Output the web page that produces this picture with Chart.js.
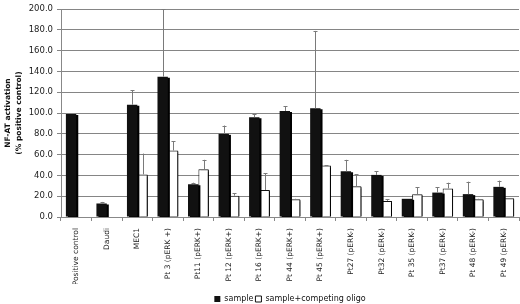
<!DOCTYPE html>
<html>
<head>
<meta charset="utf-8">
<script src="https://cdn.jsdelivr.net/npm/chart.js@4"></script>
<style>
html,body{margin:0;padding:0;background:#fff;}
#wrap{width:520px;height:304px;}
</style>
</head>
<body>
<div id="wrap"><canvas id="c" width="520" height="304"></canvas></div>
<script>
const categories = ["Positive control","Daudi","MEC1","Pt 3 (pERK +)","Pt11 (pERK+)","Pt 12 (pERK+)","Pt 16 (pERK+)","Pt 44 (pERK+)","Pt 45 (pERK+)","Pt27 (pERK-)","Pt32 (pERK-)","Pt 35 (pERK-)","Pt37 (pERK-)","Pt 48 (pERK-)","Pt 49 (pERK-)"];
const sampleValues = [99, 13, 108, 135, 31.5, 80, 96, 102, 104.5, 44, 40.5, 17.5, 23.5, 22, 29];
const oligoValues = [null, null, 41, 64, 46, 20.5, 26, 17, 49.5, 29.5, 15.5, 22, 27.5, 17, 18];
const sampleErrTop = [null, 14.5, 122, 200, 33, 88, 99, 106.5, 179, 55, 44, null, 28.5, 34, 35];
const oligoErrTop = [null, null, 61, 73, 55, 23, 42, 17.5, 50, 41, 17, 28.5, 33, 17.5, null];
const yTicks = [0,20,40,60,80,100,120,140,160,180,200];

const FONT = "'DejaVu Sans', Verdana, sans-serif";

const shadowPlugin = {
  id: 'shadowPlugin',
  afterLayout(chart) {
    if (chart.legend) { chart.legend.top += 9; chart.legend.bottom += 9; }
  },
  beforeDatasetsDraw(chart) {
    const ctx = chart.ctx;
    ctx.save();
    ctx.shadowColor = '#000';
    ctx.shadowOffsetX = 2;
    ctx.shadowOffsetY = 1;
    ctx.shadowBlur = 0;
  },
  afterDatasetsDraw(chart) {
    const ctx = chart.ctx;
    ctx.restore();
    const y = chart.scales.y;
    const area = chart.chartArea;
    const tops = [sampleErrTop, oligoErrTop];
    ctx.save();
    ctx.beginPath();
    ctx.rect(area.left, area.top - 1, area.right - area.left, area.bottom - area.top + 1);
    ctx.clip();
    ctx.strokeStyle = '#7a7a7a';
    ctx.lineWidth = 1;
    tops.forEach((arr, di) => {
      const meta = chart.getDatasetMeta(di);
      meta.data.forEach((bar, i) => {
        const v = chart.data.datasets[di].data[i];
        const t = arr[i];
        if (v == null || t == null) return;
        const x = Math.round(bar.x) + 0.5;
        const y0 = y.getPixelForValue(v);
        const y1 = y.getPixelForValue(t);
        ctx.beginPath();
        ctx.moveTo(x, y0);
        ctx.lineTo(x, y1);
        ctx.moveTo(x - 2, Math.round(y1) + 0.5);
        ctx.lineTo(x + 2, Math.round(y1) + 0.5);
        ctx.stroke();
      });
    });
    ctx.restore();
  }
};

new Chart(document.getElementById('c'), {
  type: 'bar',
  data: {
    labels: categories,
    datasets: [
      { label: 'sample', data: sampleValues, backgroundColor: '#111', borderColor: '#111', borderWidth: 0 },
      { label: 'sample+competing oligo', data: oligoValues, backgroundColor: '#fff', borderColor: '#111', borderWidth: 1 }
    ]
  },
  options: {
    responsive: false,
    animation: false,
    layout: { padding: { top: 4, right: 1, left: 0, bottom: 0 } },
    datasets: { bar: { categoryPercentage: 0.68, barPercentage: 1 } },
    plugins: {
      legend: {
        position: 'bottom',
        fullSize: false,
        labels: {
          font: { family: FONT, size: 8 },
          color: '#111',
          boxWidth: 6,
          boxHeight: 6,
          padding: 2
        }
      },
      tooltip: { enabled: false }
    },
    scales: {
      x: {
        grid: { display: true, drawOnChartArea: false, color: '#888', tickLength: 4, offset: true },
        border: { color: '#888' },
        ticks: {
          font: { family: FONT, size: 7.5 },
          color: '#222',
          maxRotation: 90,
          minRotation: 90,
          autoSkip: false,
          padding: 7
        },
        afterFit(s) { s.height = 67; }
      },
      y: {
        min: 0,
        max: 200,
        afterBuildTicks(s) { s.ticks = yTicks.map(v => ({ value: v })); },
        grid: { color: '#858585', drawTicks: true, tickLength: 4 },
        border: { color: '#888' },
        ticks: {
          font: { family: FONT, size: 8.5 },
          color: '#222',
          padding: 4,
          callback: v => Number(v).toFixed(1)
        },
        title: {
          display: true,
          text: ['NF-AT activation', '(% positive control)'],
          font: { family: FONT, size: 7.5, weight: 'bold', lineHeight: 1.45 },
          color: '#111',
          padding: { top: 3, bottom: 0 }
        },
        afterFit(s) { s.width = 61; }
      }
    }
  },
  plugins: [shadowPlugin]
});
</script>
</body>
</html>
